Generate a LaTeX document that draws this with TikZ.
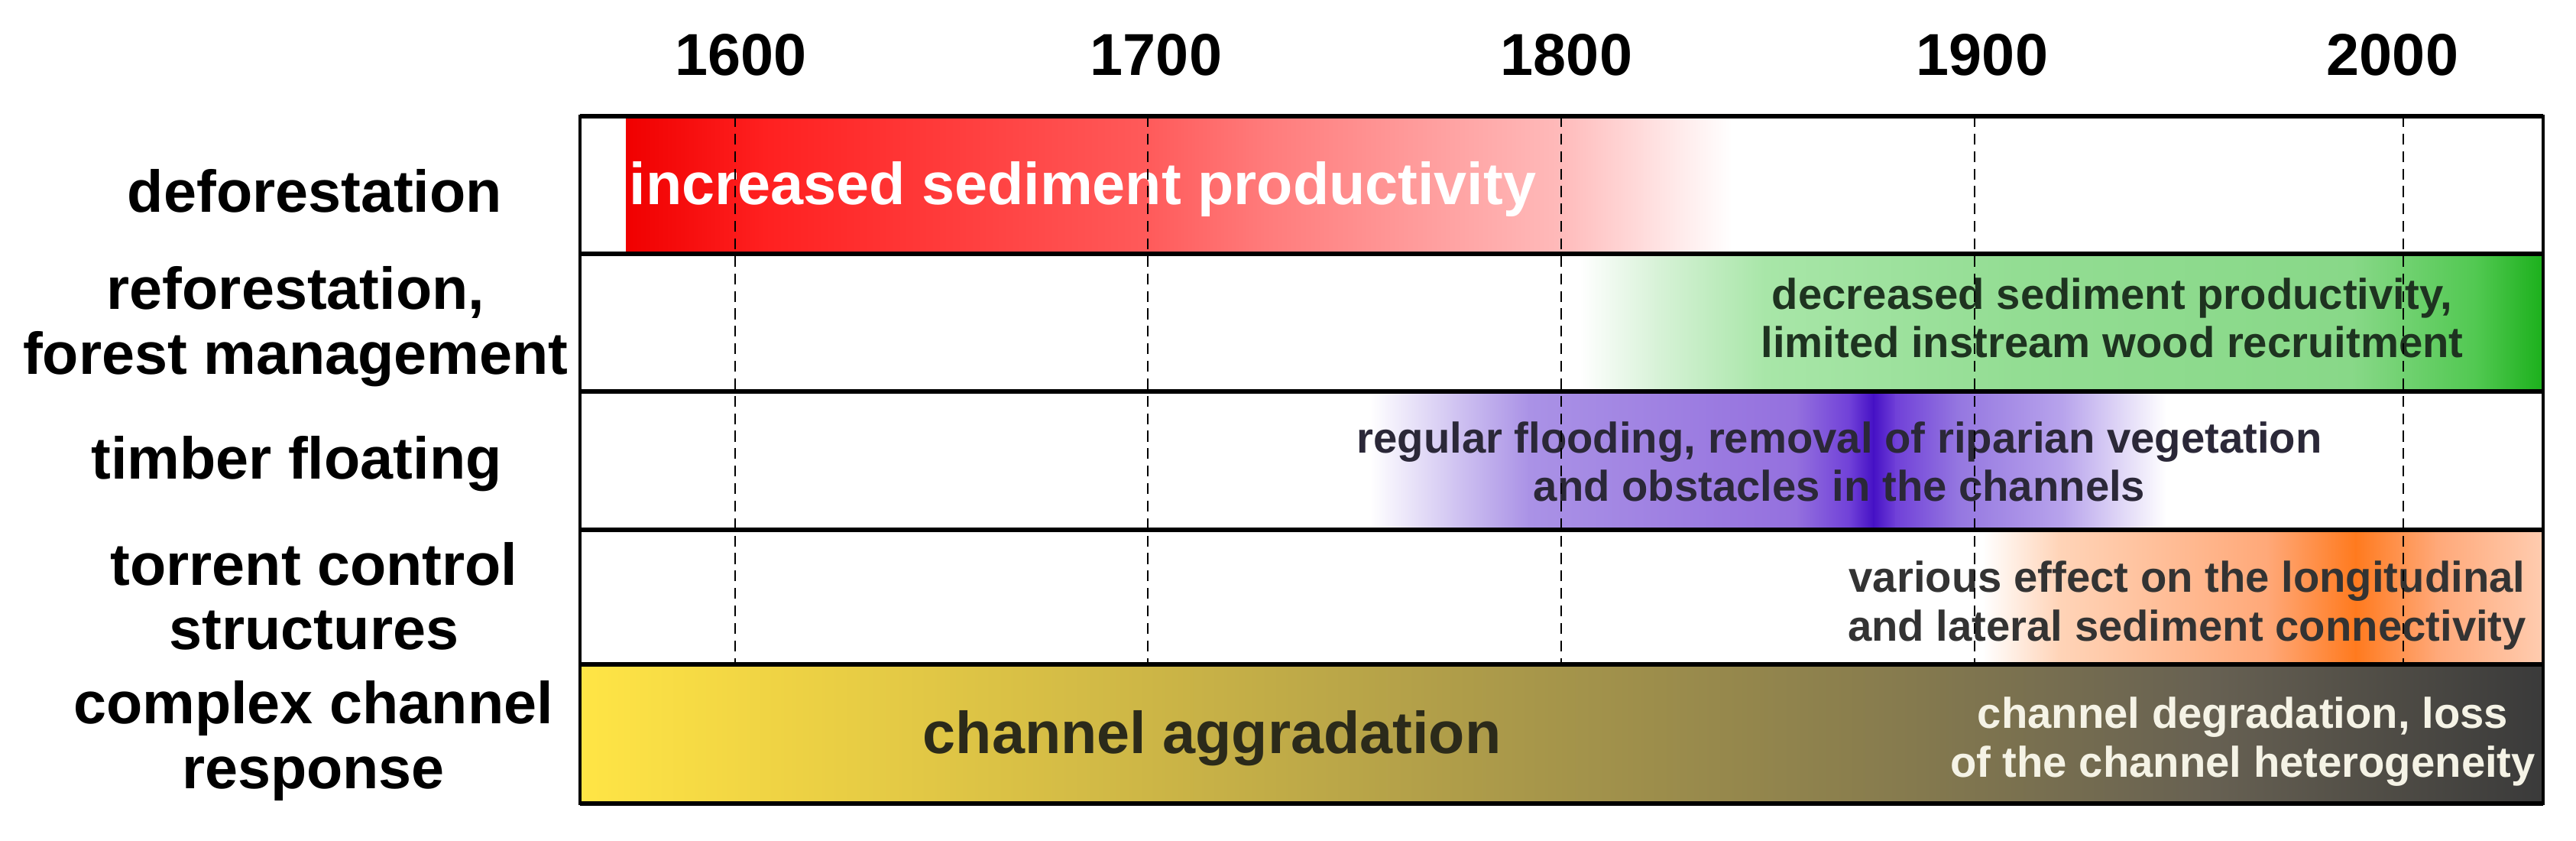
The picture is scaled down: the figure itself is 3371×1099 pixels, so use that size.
\documentclass[tikz,border=0pt]{standalone}
\usepackage{fontspec}
\setmainfont{Liberation Sans}
\definecolor{R0}{HTML}{F00000}
\definecolor{R1}{HTML}{FF2020}
\definecolor{R2}{HTML}{FF5A5A}
\definecolor{R3}{HTML}{FF7A7A}
\definecolor{R4}{HTML}{FFBABA}
\definecolor{R5}{HTML}{FFDCDC}
\definecolor{G1}{HTML}{D8F2D8}
\definecolor{G2}{HTML}{A8E6A8}
\definecolor{G3}{HTML}{93DD93}
\definecolor{G4}{HTML}{88D888}
\definecolor{G5}{HTML}{50C850}
\definecolor{G6}{HTML}{1CB01C}
\definecolor{P1}{HTML}{D2C6F2}
\definecolor{P2}{HTML}{AA92E6}
\definecolor{P3}{HTML}{9470DE}
\definecolor{P4}{HTML}{7040D8}
\definecolor{P5}{HTML}{4510C5}
\definecolor{P6}{HTML}{9476E0}
\definecolor{P7}{HTML}{B8A4EC}
\definecolor{O1}{HTML}{FFD4B8}
\definecolor{O2}{HTML}{FFA878}
\definecolor{O3}{HTML}{FF7A1E}
\definecolor{O4}{HTML}{FFCCB0}
\definecolor{B0}{HTML}{FFE545}
\definecolor{B1}{HTML}{F0D444}
\definecolor{B2}{HTML}{CDB646}
\definecolor{B3}{HTML}{A8974A}
\definecolor{B4}{HTML}{857A4E}
\definecolor{B5}{HTML}{666052}
\definecolor{B6}{HTML}{3A3A3A}
\definecolor{greentxt}{HTML}{1E3320}
\definecolor{purpletxt}{HTML}{2B2838}
\definecolor{orangetxt}{HTML}{333333}
\definecolor{aggtxt}{HTML}{2B2A1A}
\definecolor{degtxt}{HTML}{F5F3E6}
\newcommand\gseg[6]{\shade[left color=#5,right color=#6] (#1,#3) rectangle (#2+1.5,#4);}
\begin{document}
\begin{tikzpicture}[x=0.01cm,y=-0.01cm,
  yearlbl/.style={font=\fontsize{22}{24}\selectfont\bfseries, inner sep=0pt},
  rowlbl/.style={font=\fontsize{22}{24}\selectfont\bfseries, align=center, inner sep=0pt},
  bartxt/.style={font=\fontsize{16}{18}\selectfont\bfseries, align=center, inner sep=0pt},
  bigtxt/.style={font=\fontsize{22}{24}\selectfont\bfseries, inner sep=0pt},
  gridline/.style={black, line width=0.6pt, dash pattern=on 4pt off 2.5pt},
  divider/.style={black, line width=1.5pt},
  frameline/.style={black, line width=1.1pt},
]
\useasboundingbox[fill=white] (0,0) rectangle (3371,1099);

% deforestation bar (red)
\gseg{819}{1000}{152}{332}{R0}{R1}
\gseg{1000}{1500}{152}{332}{R1}{R2}
\gseg{1500}{1650}{152}{332}{R2}{R3}
\gseg{1650}{2040}{152}{332}{R3}{R4}
\gseg{2040}{2150}{152}{332}{R4}{R5}
\gseg{2150}{2265}{152}{332}{R5}{white}

% reforestation bar (green)
\gseg{2067}{2166}{332}{512}{white}{G1}
\gseg{2166}{2309}{332}{512}{G1}{G2}
\gseg{2309}{2638}{332}{512}{G2}{G3}
\gseg{2638}{3077}{332}{512}{G3}{G4}
\gseg{3077}{3242}{332}{512}{G4}{G5}
\shade[left color=G5,right color=G6] (3242,332) rectangle (3328,512);

% timber floating (purple)
\gseg{1793}{1900}{512}{693}{white}{P1}
\gseg{1900}{2000}{512}{693}{P1}{P2}
\gseg{2000}{2350}{512}{693}{P2}{P3}
\gseg{2350}{2420}{512}{693}{P3}{P4}
\gseg{2420}{2451}{512}{693}{P4}{P5}
\gseg{2451}{2480}{512}{693}{P5}{P4}
\gseg{2480}{2560}{512}{693}{P4}{P6}
\gseg{2560}{2700}{512}{693}{P6}{P7}
\shade[left color=P7,right color=white] (2700,512) rectangle (2835,693);

% torrent control (orange)
\gseg{2594}{2693}{693}{869}{white}{O1}
\gseg{2693}{2967}{693}{869}{O1}{O2}
\gseg{2967}{3082}{693}{869}{O2}{O3}
\gseg{3082}{3187}{693}{869}{O3}{O2}
\shade[left color=O2,right color=O4] (3187,693) rectangle (3328,869);

% complex channel response
\gseg{759}{1000}{869}{1051}{B0}{B1}
\gseg{1000}{1500}{869}{1051}{B1}{B2}
\gseg{1500}{2000}{869}{1051}{B2}{B3}
\gseg{2000}{2500}{869}{1051}{B3}{B4}
\gseg{2500}{2900}{869}{1051}{B4}{B5}
\shade[left color=B5,right color=B6] (2900,869) rectangle (3328,1051);

% bar texts
\node[bigtxt, text=white] (tred) at (1417,247) {increased sediment productivity};
\node[bartxt, text=greentxt] (tgreen) at (2764,416) {decreased sediment productivity,\\limited instream wood recruitment};
\node[bartxt, text=purpletxt] (tpurple) at (2407,604) {regular flooding, removal of riparian vegetation\\and obstacles in the channels};
\node[bartxt, text=orangetxt] (torange) at (2862,792) {various effect on the longitudinal\\and lateral sediment connectivity};
\node[bigtxt, text=aggtxt] (tagg) at (1586,966) {channel aggradation};
\node[bartxt, text=degtxt] (tdeg) at (2935,970) {channel degradation, loss\\of the channel heterogeneity};

% grid lines
\foreach \gx in {962,1502,2043,2584,3145}
  \draw[gridline] (\gx,152) -- (\gx,869);

% frame and dividers
\draw[frameline] (759,152) rectangle (3328,1051);
\foreach \dy in {152,332,512,693,869,1051}
  \draw[divider] (759,\dy) -- (3328,\dy);

% year labels
\node[yearlbl] (y1600) at (970,72) {1600};
\node[yearlbl] (y1700) at (1513,72) {1700};
\node[yearlbl] (y1800) at (2050,72) {1800};
\node[yearlbl] (y1900) at (2594,72) {1900};
\node[yearlbl] (y2000) at (3131,72) {2000};

% row labels
\node[rowlbl] (ldef) at (412,250) {deforestation};
\node[rowlbl] (lref) at (387,427) {reforestation,\\forest management};
\node[rowlbl] (ltim) at (388,607) {timber floating};
\node[rowlbl] (ltor) at (411,780) {torrent control\\structures};
\node[rowlbl] (lcom) at (410,969) {complex channel\\response};
\end{tikzpicture}
\end{document}
